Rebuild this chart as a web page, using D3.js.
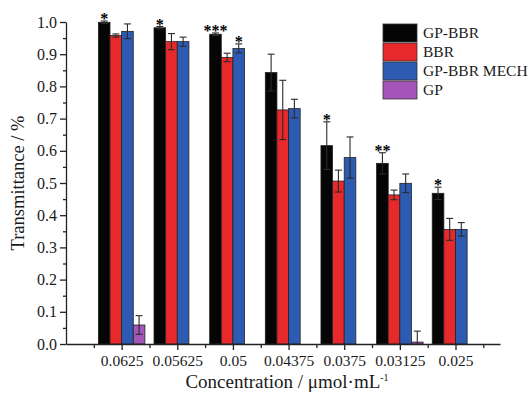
<!DOCTYPE html>
<html><head><meta charset="utf-8">
<script src="https://cdn.jsdelivr.net/npm/d3@7"></script>
<style>
html,body{margin:0;padding:0;background:#fff;}
svg{display:block;}
text{font-family:"Liberation Serif","Times New Roman",serif;fill:#1a1a1a;}
</style></head>
<body>
<svg id="chart" width="532" height="393"></svg>
<script>
const categories = ["0.0625","0.05625","0.05","0.04375","0.0375","0.03125","0.025"];
const seriesNames = ["GP-BBR","BBR","GP-BBR MECH","GP"];
const seriesColors = ["#050505","#e8292b","#2d5bb2","#a455b8"];
const gpbbr    = [0.999, 0.982, 0.962, 0.843, 0.616, 0.561, 0.468];
const gpbbrErr = [0.004, 0.004, 0.004, 0.057, 0.074, 0.033, 0.019];
const bbr      = [0.958, 0.939, 0.890, 0.727, 0.506, 0.463, 0.356];
const bbrErr   = [0.005, 0.025, 0.013, 0.092, 0.034, 0.015, 0.034];
const mech     = [0.971, 0.939, 0.918, 0.731, 0.579, 0.499, 0.356];
const mechErr  = [0.023, 0.014, 0.014, 0.029, 0.064, 0.029, 0.021];
const gp       = [0.059, null, null, null, null, 0.006, null];
const gpErr    = [0.029, null, null, null, null, 0.034, null];
const yTicks = [0,0.1,0.2,0.3,0.4,0.5,0.6,0.7,0.8,0.9,1.0];
const stars = [
  {cat:0, s:0, label:"*"},
  {cat:1, s:0, label:"*"},
  {cat:2, s:0, label:"***"},
  {cat:2, s:2, label:"*"},
  {cat:4, s:0, label:"*"},
  {cat:5, s:0, label:"**"},
  {cat:6, s:0, label:"*"}
];

const values = [gpbbr, bbr, mech, gp];
const errors = [gpbbrErr, bbrErr, mechErr, gpErr];

const svg = d3.select("#chart");
const x = d3.scaleLinear().domain([0, 7.8]).range([66, 500]);
const y = d3.scaleLinear().domain([0, 1.0]).range([344, 22]);
const bw = x(0.209) - x(0);
const barX = (ci, s) => x(ci + 1) - 2 * bw + s * bw;

// bars
const bars = [];
values.forEach((arr, s) => arr.forEach((v, ci) => {
  if (v !== null) bars.push({ci, s, v, e: errors[s][ci]});
}));
svg.append("g").selectAll("rect").data(bars).join("rect")
  .attr("x", d => barX(d.ci, d.s))
  .attr("width", bw)
  .attr("y", d => y(d.v))
  .attr("height", d => y(0) - y(d.v))
  .attr("fill", d => seriesColors[d.s])
  .attr("stroke", "#222")
  .attr("stroke-width", 0.8);

// error bars
const eb = svg.append("g").attr("stroke", "#2a2a2a").attr("stroke-width", 1.1);
bars.forEach(d => {
  const cx = barX(d.ci, d.s) + bw / 2;
  const lo = Math.max(0, d.v - d.e), hi = d.v + d.e;
  eb.append("line").attr("x1", cx).attr("x2", cx).attr("y1", y(lo)).attr("y2", y(hi));
  eb.append("line").attr("x1", cx - 3.5).attr("x2", cx + 3.5).attr("y1", y(hi)).attr("y2", y(hi));
  if (d.v - d.e > 0) eb.append("line").attr("x1", cx - 3.5).attr("x2", cx + 3.5).attr("y1", y(lo)).attr("y2", y(lo));
});

// stars
svg.append("g").selectAll("text").data(stars).join("text")
  .attr("x", d => barX(d.cat, d.s) + bw / 2)
  .attr("y", d => y(values[d.s][d.cat] + errors[d.s][d.cat]) + 3)
  .attr("text-anchor", "middle")
  .attr("font-size", 16)
  .attr("font-weight", "bold")
  .style("fill", "#000")
  .text(d => d.label);

// y axis
const yAxis = svg.append("g").attr("transform", `translate(${x(0)},0)`)
  .call(d3.axisLeft(y).tickValues(yTicks).tickFormat(d3.format(".1f")).tickSize(6).tickPadding(3).tickSizeOuter(0));
svg.append("g").attr("transform", `translate(${x(0)},0)`)
  .call(d3.axisLeft(y).tickValues(yTicks.slice(0, -1).map(t => t + 0.05)).tickFormat("").tickSize(3).tickSizeOuter(0))
  .select(".domain").remove();
yAxis.selectAll("text").attr("font-size", 16).attr("font-family", "Liberation Serif").style("fill", "#1a1a1a");

// x axis
const xAxis = svg.append("g").attr("transform", `translate(0,${y(0)})`)
  .call(d3.axisBottom(x).tickValues(d3.range(1, 8)).tickFormat((d, i) => categories[i]).tickSize(6).tickPadding(5).tickSizeOuter(0));
svg.append("g").attr("transform", `translate(0,${y(0)})`)
  .call(d3.axisBottom(x).tickValues(d3.range(0.5, 8, 1)).tickFormat("").tickSize(4).tickSizeOuter(0))
  .select(".domain").remove();
xAxis.selectAll("text").attr("font-size", 15.5).attr("font-family", "Liberation Serif").style("fill", "#1a1a1a");
svg.selectAll(".domain, .tick line").attr("stroke", "#222").attr("stroke-width", 1.3);

// axis titles
svg.append("text").attr("transform", `translate(24,${(y(0) + y(1)) / 2}) rotate(-90)`)
  .attr("text-anchor", "middle").attr("font-size", 18.5).text("Transmittance / %");
const xt = svg.append("text").attr("x", 287).attr("y", 388)
  .attr("text-anchor", "middle").attr("font-size", 19);
xt.append("tspan").text("Concentration / μmol·mL");
xt.append("tspan").attr("font-size", 10).attr("dy", -7).text("-1");

// legend
const lg = svg.append("g").attr("transform", "translate(383,24)");
seriesNames.forEach((n, i) => {
  lg.append("rect").attr("x", 0).attr("y", i * 19).attr("width", 34).attr("height", 18)
    .attr("fill", seriesColors[i]).attr("stroke", "#333").attr("stroke-width", 0.8);
  lg.append("text").attr("x", 40).attr("y", i * 19 + 14).attr("font-size", 15.5).text(n);
});
</script>
</body></html>
